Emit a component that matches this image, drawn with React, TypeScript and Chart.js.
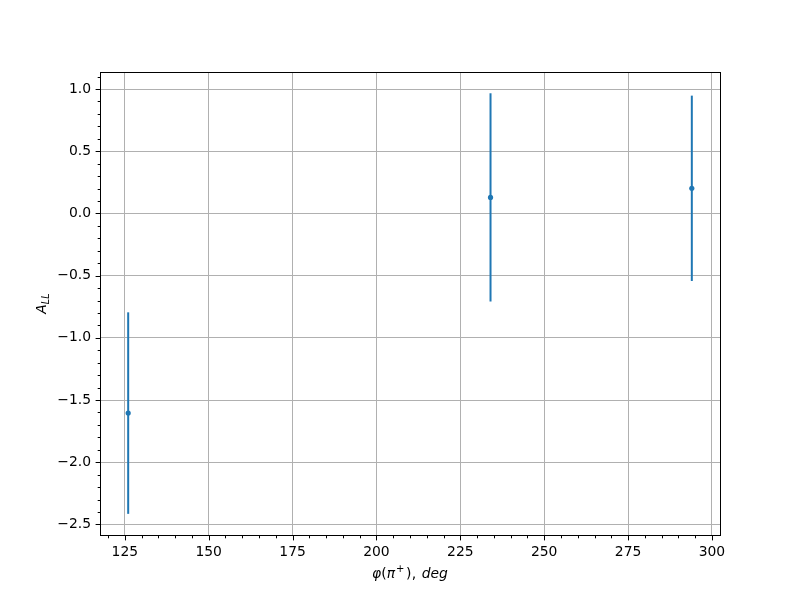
import React, { useEffect, useRef } from "react";
import { Chart, registerables } from "chart.js";

Chart.register(...registerables);

const xValues = [126, 234, 294];
const yValues = [-1.605, 0.129, 0.202];
const yErrors = [0.81, 0.837, 0.745];

const xMajorTicks = [125, 150, 175, 200, 225, 250, 275, 300];
const yMajorTicks = [-2.5, -2.0, -1.5, -1.0, -0.5, 0.0, 0.5, 1.0];

const X_MIN = 117.6;
const X_MAX = 302.4;
const Y_MIN = -2.585;
const Y_MAX = 1.137;

const BLUE = "#1f77b4";
const FONT = "DejaVu Sans";

const fmt = (v: number) => {
  const s = v.toFixed(1);
  return s.startsWith("-") ? "\u2212" + s.slice(1) : s;
};

const decorPlugin = {
  id: "decor",
  beforeDatasetsDraw(chart: any) {
    const { ctx, chartArea, scales } = chart;
    const xs = scales.x;
    const ys = scales.y;
    ctx.save();
    ctx.beginPath();
    ctx.rect(chartArea.left, chartArea.top, chartArea.right - chartArea.left, chartArea.bottom - chartArea.top);
    ctx.clip();
    ctx.strokeStyle = BLUE;
    ctx.lineWidth = 2;
    for (let i = 0; i < xValues.length; i++) {
      const px = xs.getPixelForValue(xValues[i]);
      const top = ys.getPixelForValue(yValues[i] + yErrors[i]);
      const bot = ys.getPixelForValue(yValues[i] - yErrors[i]);
      ctx.beginPath();
      ctx.moveTo(px, top);
      ctx.lineTo(px, bot);
      ctx.stroke();
    }
    ctx.restore();
  },
  afterDraw(chart: any) {
    const { ctx, chartArea, scales } = chart;
    const xs = scales.x;
    const ys = scales.y;
    const { left, right, top, bottom } = chartArea;
    ctx.save();
    ctx.strokeStyle = "#000";
    ctx.lineWidth = 1;
    ctx.strokeRect(Math.round(left) + 0.5, Math.round(top) + 0.5, Math.round(right - left), Math.round(bottom - top));
    for (let v = 120; v <= 300; v += 5) {
      const px = Math.round(xs.getPixelForValue(v)) + 0.5;
      const major = v % 25 === 0;
      const len = major ? 4.9 : 2.8;
      ctx.beginPath();
      ctx.moveTo(px, Math.round(bottom) + 0.5);
      ctx.lineTo(px, Math.round(bottom) + 0.5 + len);
      ctx.stroke();
    }
    for (let k = -25; k <= 11; k++) {
      const v = k / 10;
      const py = Math.round(ys.getPixelForValue(v)) + 0.5;
      const major = k % 5 === 0;
      const len = major ? 4.9 : 2.8;
      ctx.beginPath();
      ctx.moveTo(Math.round(left) + 0.5, py);
      ctx.lineTo(Math.round(left) + 0.5 - len, py);
      ctx.stroke();
    }
    ctx.fillStyle = "#000";
    ctx.textBaseline = "alphabetic";
    const parts: [string, string, number, number][] = [
      ["φ", "italic", 0, 0],
      ["(", "normal", 0, 0],
      ["π", "italic", 0, 0],
      ["+", "normal", -6, 2],
      [")", "normal", 0, 1],
      [",", "normal", 0, 0],
      [" ", "normal", 0, 1],
      ["deg", "italic", 0, 0],
    ];
    const sizes = parts.map((p) => (p[2] !== 0 ? 10 : 13.9));
    let total = 0;
    const widths: number[] = [];
    parts.forEach((p, i) => {
      ctx.font = `${p[1]} ${sizes[i]}px "${FONT}"`;
      const w = ctx.measureText(p[0]).width + p[3];
      widths.push(w);
      total += w;
    });
    const cx = (left + right) / 2;
    let x = cx - total / 2;
    const baseY = 578;
    parts.forEach((p, i) => {
      ctx.font = `${p[1]} ${sizes[i]}px "${FONT}"`;
      ctx.textAlign = "left";
      ctx.fillText(p[0], x + p[3] / 2, baseY + p[2]);
      x += widths[i];
    });
    ctx.save();
    ctx.translate(46, (top + bottom) / 2);
    ctx.rotate(-Math.PI / 2);
    ctx.font = `italic 13.9px "${FONT}"`;
    const wA = ctx.measureText("A").width;
    ctx.font = `italic 9.7px "${FONT}"`;
    const wL = ctx.measureText("LL").width;
    const tot = wA + wL;
    ctx.textAlign = "left";
    ctx.font = `italic 13.9px "${FONT}"`;
    ctx.fillText("A", -tot / 2, 0);
    ctx.font = `italic 9.7px "${FONT}"`;
    ctx.fillText("LL", -tot / 2 + wA, 3);
    ctx.restore();
    ctx.restore();
  },
};

export default function App() {
  const ref = useRef<HTMLCanvasElement | null>(null);
  useEffect(() => {
    document.body.style.margin = "0";
    const canvas = ref.current;
    if (!canvas) return;
    const chart = new Chart(canvas, {
      type: "scatter",
      data: {
        datasets: [
          {
            data: xValues.map((x, i) => ({ x, y: yValues[i] })),
            backgroundColor: BLUE,
            borderColor: BLUE,
            pointRadius: 2.6,
            pointBorderWidth: 0,
            showLine: false,
          },
        ],
      },
      options: {
        responsive: false,
        animation: false,
        devicePixelRatio: 1,
        layout: { padding: { left: 0, right: 80, top: 72, bottom: 0 } },
        plugins: { legend: { display: false }, tooltip: { enabled: false } },
        scales: {
          x: {
            type: "linear",
            min: X_MIN,
            max: X_MAX,
            afterBuildTicks: (s: any) => {
              s.ticks = xMajorTicks.map((v) => ({ value: v }));
            },
            afterFit: (s: any) => {
              s.height = 65;
            },
            grid: { color: "#b0b0b0", lineWidth: 1, drawTicks: false },
            border: { display: false },
            ticks: {
              color: "#000",
              font: { family: FONT, size: 13.9 },
              padding: 9,
              maxRotation: 0,
              autoSkip: false,
              callback: (v: any) => String(v),
            },
          },
          y: {
            type: "linear",
            min: Y_MIN,
            max: Y_MAX,
            afterBuildTicks: (s: any) => {
              s.ticks = yMajorTicks.map((v) => ({ value: v }));
            },
            afterFit: (s: any) => {
              s.width = 100;
            },
            grid: { color: "#b0b0b0", lineWidth: 1, drawTicks: false },
            border: { display: false },
            ticks: {
              color: "#000",
              font: { family: FONT, size: 13.9 },
              padding: 9,
              autoSkip: false,
              callback: (v: any) => fmt(Number(v)),
            },
          },
        },
      },
      plugins: [decorPlugin],
    } as any);
    return () => chart.destroy();
  }, []);
  return <canvas ref={ref} width={800} height={600} style={{ display: "block" }} />;
}
